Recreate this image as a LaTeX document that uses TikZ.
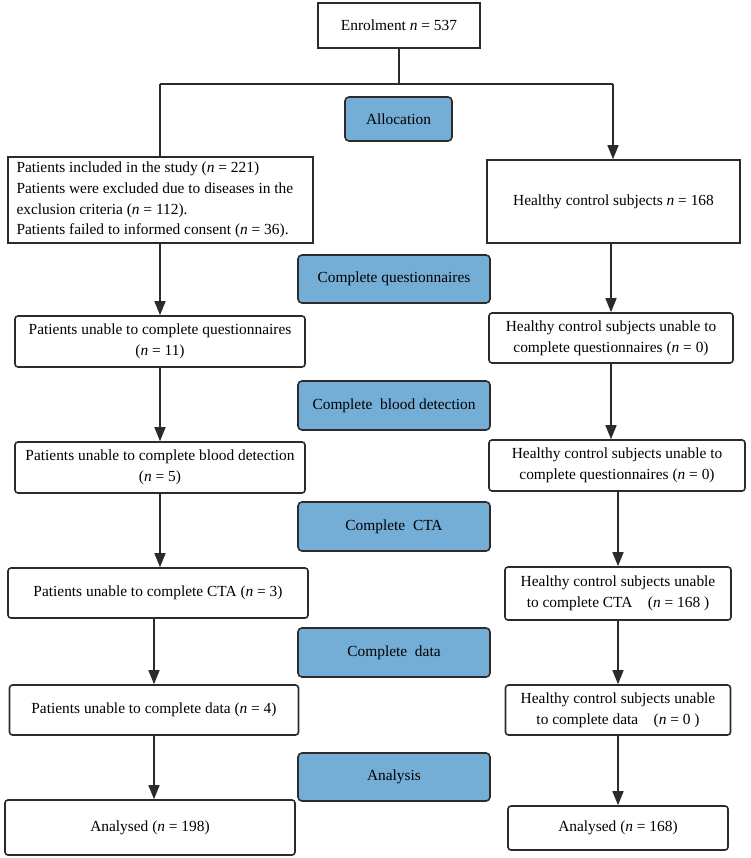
\documentclass[tikz,border=0pt]{standalone}
\usepackage{fontspec}
\setmainfont{Liberation Serif}
\usetikzlibrary{arrows.meta}
\definecolor{stageblue}{HTML}{74AED6}
\definecolor{edge}{HTML}{2E2A2B}
\begin{document}
\begin{tikzpicture}[x=1pt,y=1pt,
  font=\fontsize{15.4}{20.6}\selectfont,
  sharpbox/.style={draw=edge, line width=1.6pt, fill=white, inner sep=2pt, align=center},
  roundbox/.style={sharpbox, rounded corners=3pt},
  stagebox/.style={draw=edge, line width=1.6pt, fill=stageblue, rounded corners=4pt, minimum width=192pt, align=center},
  link/.style={draw=edge, line width=1.5pt},
  arr/.style={link, -{Triangle[length=14pt,width=11pt]}}
]
\useasboundingbox (0,0) rectangle (750,-858);
\newcommand{\nn}{\textit{n}}

% nodes
\node[sharpbox, minimum width=162pt, minimum height=45pt] (enrol) at (399,-25.5) {Enrolment \nn\ = 537};
\node[stagebox, minimum width=107pt, minimum height=44pt] (alloc) at (398.5,-119) {Allocation};

\node[sharpbox, minimum width=305pt, minimum height=86pt, align=flush left, text width=288pt, inner xsep=8pt, inner ysep=3pt] (L1) at (160.5,-200)
 {Patients included in the study (\nn\ = 221)\\
  Patients were excluded due to diseases in the\\
  exclusion criteria (\nn\ = 112).\\
  Patients failed to informed consent (\nn\ = 36).};
\node[sharpbox, minimum width=253pt, minimum height=83pt] (R1) at (613.5,-201.5) {Healthy control subjects \nn\ = 168};

\node[stagebox, minimum height=48pt] (cq) at (394,-279) {Complete questionnaires};
\node[roundbox, minimum width=290pt, minimum height=51pt] (L2) at (160,-341.5) {Patients unable to complete questionnaires\\(\nn\ = 11)};
\node[roundbox, minimum width=244pt, minimum height=50pt] (R2) at (611,-338) {Healthy control subjects unable to\\complete questionnaires (\nn\ = 0)};

\node[stagebox, minimum height=49pt] (cb) at (394,-405.5) {Complete\ \ blood detection};
\node[roundbox, minimum width=290pt, minimum height=51pt] (L3) at (160,-467.5) {Patients unable to complete blood detection\\(\nn\ = 5)};
\node[roundbox, minimum width=256pt, minimum height=51pt] (R3) at (617,-465.5) {Healthy control subjects unable to\\complete questionnaires (\nn\ = 0)};

\node[stagebox, minimum height=49pt] (cc) at (394,-526.5) {Complete\ \ CTA};
\node[roundbox, minimum width=300pt, minimum height=50pt] (L4) at (158,-593) {Patients unable to complete CTA (\nn\ = 3)};
\node[roundbox, minimum width=226pt, minimum height=53pt] (R4) at (618,-593.5) {Healthy control subjects unable\\to complete CTA\quad (\nn\ = 168 )};

\node[stagebox, minimum height=49pt] (cd) at (394,-652.5) {Complete\ \ data};
\node[roundbox, minimum width=289pt, minimum height=50pt] (L5) at (154,-710) {Patients unable to complete data (\nn\ = 4)};
\node[roundbox, minimum width=225pt, minimum height=50pt] (R5) at (618,-710) {Healthy control subjects unable\\to complete data\quad (\nn\ = 0 )};

\node[stagebox, minimum height=48pt] (an) at (394,-777) {Analysis};
\node[roundbox, minimum width=290pt, minimum height=55pt] (L6) at (150,-827.5) {Analysed (\nn\ = 198)};
\node[roundbox, minimum width=220pt, minimum height=44pt] (R6) at (618,-828) {Analysed (\nn\ = 168)};

% connectors
\coordinate (split) at (399,-84);
\coordinate (lc) at (160,-84);
\coordinate (rc) at (613,-84);
\draw[link] (enrol.south) -- (split);
\draw[link] (lc) -- (rc);
\draw[link] (lc) -- (lc |- L1.north);
\draw[arr] (rc) -- (rc |- R1.north);

\draw[arr] (L2.north |- L1.south) -- (L2.north);
\draw[arr] (L3.north |- L2.south) -- (L3.north);
\draw[arr] (L3.south) -- (L3.south |- L4.north);
\draw[arr] (L5.north |- L4.south) -- (L5.north);
\draw[arr] (L5.south) -- (L5.south |- L6.north);

\draw[arr] (R1.south -| R2.north) -- (R2.north);
\draw[arr] (R2.south) -- (R2.south |- R3.north);
\draw[arr] (R4.north |- R3.south) -- (R4.north);
\draw[arr] (R4.south) -- (R5.north);
\draw[arr] (R5.south) -- (R5.south |- R6.north);
\end{tikzpicture}
\end{document}
